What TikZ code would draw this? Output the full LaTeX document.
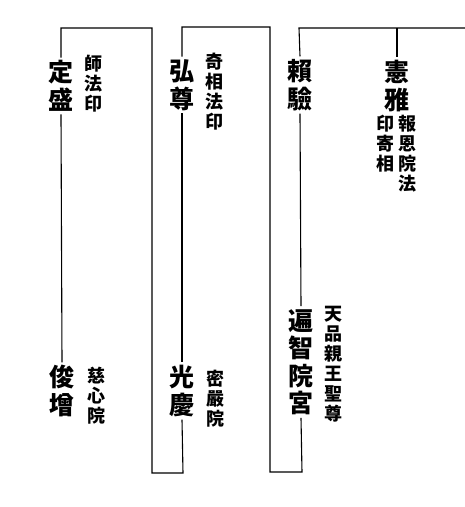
\documentclass[tikz,border=0pt]{standalone}
\usepackage{fontspec}
\newfontfamily\jpfont{Noto Sans CJK JP}
\usepackage{tikz}

\begin{document}
\begin{tikzpicture}[x=1pt,y=-1pt,
  line width=1.1pt,
  person/.style={inner sep=2.5pt,align=center,font={\jpfont\bfseries\fontsize{25}{27.5}\selectfont}},
  remark/.style={inner sep=0pt,anchor=north,align=center,font={\jpfont\bfseries\fontsize{18}{20}\selectfont}}]

  \useasboundingbox (0,0) rectangle (465,507);

  % right branch
  \node [person] (kenga) at (397,86) {憲\\雅};
  \node [remark] (kenganoteA) at (407,115) {報\\恩\\院\\法};
  \node [remark] (kenganoteB) at (385,115) {印\\寄\\相};
  \node [person] (raiken) at (300,85) {賴\\驗};
  \node [person] (henchi) at (301,362) {遍\\智\\院\\宮};
  \node [remark] (henchinote) at (333,306) {天\\品\\親\\王\\聖\\尊};

  % middle branch
  \node [person] (koson) at (182,85) {弘\\尊};
  \node [remark] (kosonnote) at (214,53) {奇\\相\\法\\印};
  \node [person] (kokei) at (182,391) {光\\慶};
  \node [remark] (kokeinote) at (215,370) {密\\嚴\\院};

  % left branch
  \node [person] (josei) at (61,86) {定\\盛};
  \node [remark] (joseinote) at (93,55) {師\\法\\印};
  \node [person] (shunzo) at (62,391) {俊\\增};
  \node [remark] (shunzonote) at (96,367) {慈\\心\\院};

  \coordinate (topR) at (465,28);
  \coordinate (topA) at (299,28);
  \coordinate (topK) at (397,28);
  \coordinate (botA) at (302,472);
  \coordinate (botB) at (270,472);
  \coordinate (topB) at (270,27);
  \coordinate (topC) at (182,27);
  \coordinate (botC) at (183,473);
  \coordinate (botD) at (152,473);
  \coordinate (topD) at (152,28);
  \coordinate (topE) at (61,28);

  \draw (topR) -- (topA) -- (raiken.north);
  \draw (topK) -- (kenga.north);
  \draw (raiken.south) -- (henchi.north);
  \draw (henchi.south) -- (botA) -- (botB) -- (topB) -- (topC) -- (koson.north);
  \draw (koson.south) -- (kokei.north);
  \draw (kokei.south) -- (botC) -- (botD) -- (topD) -- (topE) -- (josei.north);
  \draw (josei.south) -- (shunzo.north);

\end{tikzpicture}
\end{document}
